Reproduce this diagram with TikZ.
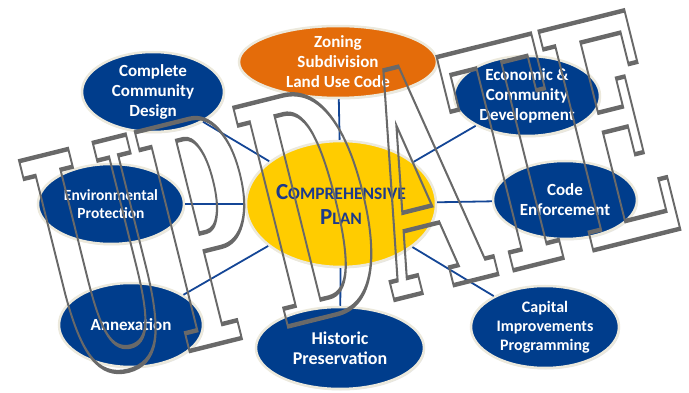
\documentclass[tikz,border=0pt]{standalone}
\usepackage{fontspec}
\setmainfont{Carlito}
\newfontfamily\stampfont{DejaVu Serif}
\usetikzlibrary{shapes.geometric,shadows}

\definecolor{navy}{RGB}{0,61,140}
\definecolor{rim}{RGB}{236,233,220}
\definecolor{zone}{RGB}{228,108,10}
\definecolor{gold}{RGB}{255,204,0}
\definecolor{planblue}{RGB}{28,58,140}
\definecolor{linkblue}{RGB}{20,70,150}
\definecolor{stampgray}{RGB}{105,105,105}

% outlined (stroked) letters through the pdf text render mode
\newcommand{\outlined}[1]{\special{pdf:literal direct 1 Tr 4 w}#1\special{pdf:literal direct 0 Tr}}
\newcommand{\smallcapsword}[2]{{\fontsize{23}{25}\selectfont #1}{\fontsize{17.5}{25}\selectfont #2}}

\tikzstyle{bubble} = [ellipse, draw=rim, line width=2.5pt, inner sep=-4pt, align=center,
                      drop shadow={opacity=0.2, shadow xshift=1pt, shadow yshift=-1.5pt}]
\tikzstyle{topic}  = [bubble, fill=navy, text=white, font=\bfseries\fontsize{17}{20}\selectfont]
\tikzstyle{hub}    = [bubble, fill=gold, text=planblue, font=\bfseries\fontsize{17.5}{25}\selectfont]
\tikzstyle{link}   = [draw=linkblue, line width=1.8pt]
\tikzstyle{stamp}  = [inner sep=0pt, text=stampgray, font=\stampfont\bfseries\fontsize{281}{281}\selectfont]

\begin{document}
\begin{tikzpicture}[x=1pt, y=1pt]
  \useasboundingbox (0,0) rectangle (689,-393);

  %Hub
  \node[hub, minimum width=190, minimum height=126] (plan) at (341,-204)
       {\smallcapsword{C}{OMPREHENSIVE}\\\smallcapsword{P}{LAN}};

  %Topics around the plan
  \node[topic, minimum width=142, minimum height=80] (design) at (153,-92) {Complete\\Community\\Design};
  \node[topic, fill=zone, minimum width=198, minimum height=72] (zoning) at (338,-62) {Zoning\\Subdivision\\Land Use Code};
  \node[topic, minimum width=146, minimum height=80] (econ) at (527,-96) {Economic \&\\Community\\Development};
  \node[topic, font=\bfseries\fontsize{15.5}{18}\selectfont, minimum width=146, minimum height=80] (enviro) at (111,-204) {Environmental\\Protection};
  \node[topic, minimum width=144, minimum height=78] (code) at (565,-200) {Code\\Enforcement};
  \node[topic, minimum width=144, minimum height=84] (annex) at (131,-325) {Annexation};
  \node[topic, font=\bfseries\fontsize{18}{20}\selectfont, minimum width=168, minimum height=82] (historic) at (340,-348) {Historic\\Preservation};
  \node[topic, font=\bfseries\fontsize{16}{19}\selectfont, minimum width=148, minimum height=82] (capital) at (545,-327) {Capital\\Improvements\\Programming};

  %Links
  \foreach \t in {design,zoning,econ,enviro,code,annex,historic,capital}
    \draw[link] (plan) -- (\t);

  %Stamp
  \begin{scope}[shift={(378,-304)}, rotate=14, xscale=0.48, yscale=1.1]
    \node[stamp, anchor=base, transform shape] (update) at (0,0) {\outlined{UPDATE}};
  \end{scope}
\end{tikzpicture}
\end{document}
